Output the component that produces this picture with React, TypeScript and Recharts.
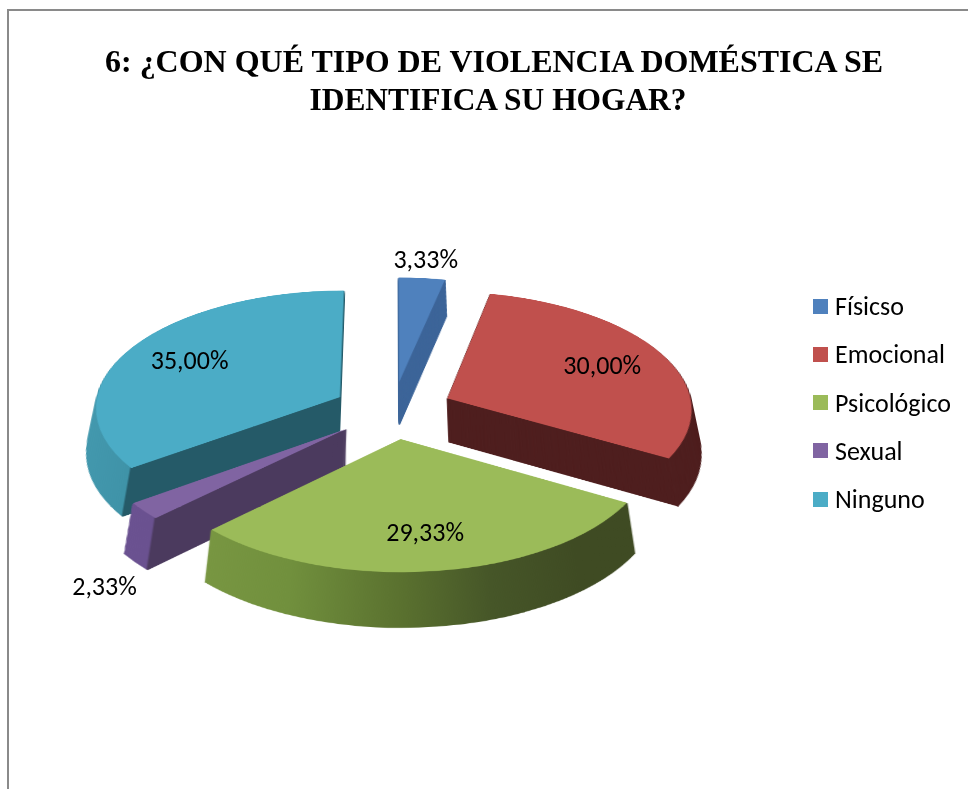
import React from 'react';
import { PieChart, Pie, Cell, Legend } from 'recharts';

// ---------- data ----------
const NAMES = ['Físicso', 'Emocional', 'Psicológico', 'Sexual', 'Ninguno'];
const VALUES = [3.33, 30.0, 29.33, 2.33, 35.0];
const TOP_COLORS = ['#4f81bd', '#c0504d', '#9bbb59', '#8064a2', '#4bacc6'];
const SIDE_FILLS = ['#3d6599', '#4f1f1f', 'url(#sideGreen)', 'url(#sidePurple)', 'url(#sideAqua)'];
const TITLE_LINES = ['6: ¿CON QUÉ TIPO DE VIOLENCIA DOMÉSTICA SE', 'IDENTIFICA SU HOGAR?'];

const data = NAMES.map((name, i) => ({ name, value: VALUES[i] }));
const TOTAL = VALUES.reduce((a, b) => a + b, 0);

// ---------- geometry / style ----------
const W = 968;
const H = 789;
const CX = 393; // screen centre of the pie
const CY = 410;
const SVG_H = 760;
const OX = 393; // pie centre inside tilted svg
const OY = 320;
const R = 245;
const EXPLODE = 60;
const DEPTH = 90;
const STEP = 2;
const PERSP = 2640;
const TILT = 61.4;
const FONT = "Carlito, Lato, 'Open Sans', sans-serif";
const rad = (d: number) => (d * Math.PI) / 180;
const SIN_T = Math.sin(rad(TILT));
const COS_T = Math.cos(rad(TILT));

// clockwise angles from 12 o'clock, derived from the values
const slices = (() => {
  let cum = 0;
  return VALUES.map((v) => {
    const start = (cum / TOTAL) * 360;
    cum += v;
    const end = (cum / TOTAL) * 360;
    const mid = (start + end) / 2;
    return {
      start,
      end,
      mid,
      dx: EXPLODE * Math.sin(rad(mid)),
      dy: -EXPLODE * Math.cos(rad(mid)),
    };
  });
})();
const drawOrder = slices.map((_, i) => i).sort((a, b) => slices[a].dy - slices[b].dy);

const rimBoundary = (i: number) => OX + slices[i].dx + R * Math.sin(rad(slices[i].start));

const project = (px: number, py: number) => {
  const s = PERSP / (PERSP - py * SIN_T);
  return [CX + px * s, CY + py * COS_T * s];
};

const fmt = (v: number) => `${v.toFixed(2).replace('.', ',')}%`;

const renderLabel = (props: any) => {
  const { midAngle, value, index } = props;
  const th = rad(90 - midAngle);
  const sn = Math.sin(th);
  const cs = Math.cos(th);
  const ex = EXPLODE * sn;
  const ey = -EXPLODE * cs;
  let x: number;
  let y: number;
  if (value / TOTAL >= 0.05) {
    const r = 0.72 * R;
    [x, y] = project(ex + r * sn, ey - r * cs);
  } else {
    const r = 1.05 * R;
    let py = ey - r * cs;
    if (cs < 0) py += DEPTH;
    [x, y] = project(ex + r * sn, py);
    x += sn * 26;
    y += cs < 0 ? -cs * 30 : -cs * 14;
  }
  return (
    <text
      key={`lbl-${index}`}
      x={x}
      y={y}
      textAnchor="middle"
      dominantBaseline="central"
      fontFamily={FONT}
      fontSize={26}
      fill="#000"
    >
      {fmt(value)}
    </text>
  );
};

const renderLegend = () => (
  <div style={{ fontFamily: FONT, fontSize: 26, color: '#000' }}>
    {NAMES.map((n, i) => (
      <div key={n} style={{ display: 'flex', alignItems: 'center', height: 48.25 }}>
        <span
          style={{ display: 'inline-block', width: 15, height: 15, background: TOP_COLORS[i], marginRight: 7 }}
        />
        <span>{n}</span>
      </div>
    ))}
  </div>
);

export default function App() {
  const aquaB = rimBoundary(4) / W;
  const purpleB = rimBoundary(3) / W;
  const pies: React.ReactNode[] = [];
  drawOrder.forEach((i) => {
    const sl = slices[i];
    for (let L = DEPTH; L > 0; L -= STEP) {
      pies.push(
        <Pie
          key={`s${i}-${L}`}
          data={data}
          dataKey="value"
          cx={OX + sl.dx}
          cy={OY + sl.dy + L}
          outerRadius={R}
          startAngle={90}
          endAngle={-270}
          isAnimationActive={false}
          stroke="none"
        >
          {data.map((d, j) => (
            <Cell
              key={d.name}
              fill={j === i ? SIDE_FILLS[i] : 'none'}
              stroke={j === i ? SIDE_FILLS[i] : 'none'}
              strokeWidth={j === i ? 1.5 : 0}
            />
          ))}
        </Pie>
      );
    }
    pies.push(
      <Pie
        key={`t${i}`}
        data={data}
        dataKey="value"
        cx={OX + sl.dx}
        cy={OY + sl.dy}
        outerRadius={R}
        startAngle={90}
        endAngle={-270}
        isAnimationActive={false}
        stroke="none"
      >
        {data.map((d, j) => (
          <Cell key={d.name} fill={j === i ? TOP_COLORS[i] : 'none'} stroke="none" />
        ))}
      </Pie>
    );
  });

  return (
    <div style={{ position: 'absolute', left: 0, top: 0, width: W, height: H, overflow: 'hidden', background: '#fff' }}>
      <div
        style={{
          position: 'absolute',
          left: 7,
          top: 9,
          width: 1000,
          height: 1000,
          borderLeft: '2px solid #8a8a8a',
          borderTop: '2px solid #8a8a8a',
        }}
      />
      <div
        style={{
          position: 'absolute',
          left: 0,
          top: CY - OY,
          width: W,
          height: SVG_H,
          transformOrigin: `${OX}px ${OY}px`,
          transform: `perspective(${PERSP}px) rotateX(${TILT}deg)`,
        }}
      >
        <PieChart width={W} height={SVG_H} margin={{ top: 0, right: 0, bottom: 0, left: 0 }}>
          <defs>
            <linearGradient id="sideAqua" gradientUnits="userSpaceOnUse" x1={0} y1={0} x2={W} y2={0}>
              <stop offset={0} stopColor="#4aa2b8" />
              <stop offset={aquaB - 0.002} stopColor="#3f93a8" />
              <stop offset={aquaB} stopColor="#255a68" />
              <stop offset={1} stopColor="#255a68" />
            </linearGradient>
            <linearGradient id="sidePurple" gradientUnits="userSpaceOnUse" x1={0} y1={0} x2={W} y2={0}>
              <stop offset={0} stopColor="#6e5595" />
              <stop offset={purpleB - 0.002} stopColor="#6a5190" />
              <stop offset={purpleB} stopColor="#4b3a5e" />
              <stop offset={1} stopColor="#4b3a5e" />
            </linearGradient>
            <linearGradient id="sideGreen" gradientUnits="userSpaceOnUse" x1={0} y1={0} x2={W} y2={0}>
              <stop offset={200 / W} stopColor="#7a9843" />
              <stop offset={300 / W} stopColor="#71903d" />
              <stop offset={400 / W} stopColor="#5a712f" />
              <stop offset={480 / W} stopColor="#465628" />
              <stop offset={560 / W} stopColor="#3f4b23" />
              <stop offset={1} stopColor="#3e4a22" />
            </linearGradient>
          </defs>
          {pies}
        </PieChart>
      </div>

      <div style={{ position: 'absolute', left: 0, top: 0 }}>
        <PieChart width={W} height={H} margin={{ top: 0, right: 0, bottom: 0, left: 0 }}>
          <Pie
            data={data}
            dataKey="value"
            cx={CX}
            cy={CY}
            outerRadius={R}
            startAngle={90}
            endAngle={-270}
            isAnimationActive={false}
            label={renderLabel}
            labelLine={false}
            stroke="none"
          >
            {data.map((d) => (
              <Cell key={d.name} fill="none" stroke="none" />
            ))}
          </Pie>
          <Legend
            layout="vertical"
            verticalAlign="top"
            align="right"
            content={renderLegend}
            wrapperStyle={{ left: 813, top: 282, width: 155, right: 'auto' }}
          />
        </PieChart>
      </div>

      <svg
        width={W}
        height={130}
        style={{ position: 'absolute', left: 0, top: 0 }}
      >
        <text
          x={494}
          y={72}
          textAnchor="middle"
          fontFamily="'Liberation Serif', 'Times New Roman', serif"
          fontWeight="bold"
          fontSize={32}
          textLength={778}
          lengthAdjust="spacingAndGlyphs"
          fill="#000"
        >
          {TITLE_LINES[0]}
        </text>
        <text
          x={498}
          y={110}
          textAnchor="middle"
          fontFamily="'Liberation Serif', 'Times New Roman', serif"
          fontWeight="bold"
          fontSize={32}
          textLength={377}
          lengthAdjust="spacingAndGlyphs"
          fill="#000"
        >
          {TITLE_LINES[1]}
        </text>
      </svg>
    </div>
  );
}
